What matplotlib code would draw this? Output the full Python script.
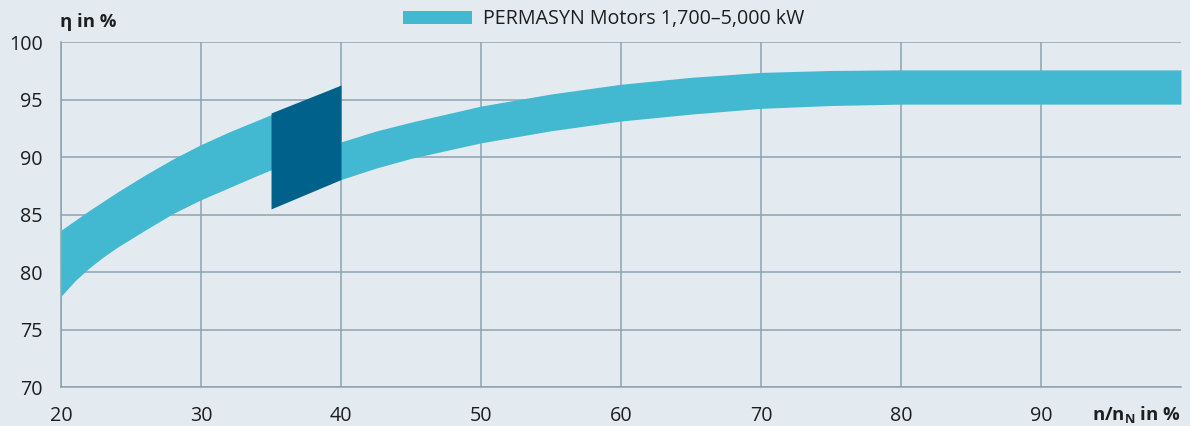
import matplotlib
matplotlib.use('Agg')
import matplotlib.pyplot as plt
from matplotlib.patches import Patch

plt.rcParams['font.family'] = ['Open Sans', 'DejaVu Sans']
plt.rcParams['mathtext.fontset'] = 'custom'
plt.rcParams['mathtext.rm'] = 'Open Sans:bold'

# band left of the highlighted range
x_left = [20, 21, 22, 23, 24, 26, 28, 30, 32, 34, 35]
up_left = [83.65, 84.5, 85.35, 86.15, 86.95, 88.45, 89.85, 91.1, 92.2, 93.2, 93.7]
lo_left = [77.9, 79.25, 80.35, 81.3, 82.15, 83.65, 85.1, 86.3, 87.35, 88.4, 88.9]

# band right of the highlighted range
x_right = [40, 42.5, 45, 50, 55, 60, 65, 70, 75, 80, 90, 100]
up_right = [91.33, 92.28, 93.05, 94.45, 95.5, 96.35, 96.95, 97.38, 97.55, 97.6, 97.6, 97.6]
lo_right = [88.06, 89.05, 89.9, 91.25, 92.3, 93.15, 93.75, 94.25, 94.5, 94.62, 94.62, 94.62]

# highlighted range
x_dark = [35, 40]
up_dark = [93.85, 96.28]
lo_dark = [85.5, 88.06]

xticks = [20, 30, 40, 50, 60, 70, 80, 90]
yticks = [70, 75, 80, 85, 90, 95, 100]
legend_label = 'PERMASYN Motors 1,700–5,000 kW'

bg = '#e3ebf1'
light = '#43b8d1'
dark = '#00618a'
grid_c = '#8ca3b2'
txt = '#1e1e1e'

fig = plt.figure(figsize=(11.9, 4.26), dpi=100, facecolor=bg)
ax = fig.add_axes([0.0513, 0.0915, 0.9411, 0.8092])
ax.set_facecolor(bg)

ax.fill_between(x_left + x_right, lo_left + lo_right, up_left + up_right,
                color=light, lw=0, zorder=2)
ax.fill_between(x_dark, lo_dark, up_dark, color=dark, lw=0, zorder=3)

ax.set_xlim(20, 100)
ax.set_ylim(70, 100)
ax.set_xticks(xticks)
ax.set_yticks(yticks)
ax.set_axisbelow(True)
ax.grid(True, color=grid_c, lw=1.1)
for s in ['top', 'right']:
    ax.spines[s].set_visible(False)
for s in ['left', 'bottom']:
    ax.spines[s].set_color(grid_c)
    ax.spines[s].set_linewidth(1.1)
ax.tick_params(axis='both', length=0, labelsize=14.2, colors=txt)
ax.tick_params(axis='x', pad=14)
ax.tick_params(axis='y', pad=13)

fig.text(0.0505, 0.948, 'η in %', fontsize=13.3, fontweight='bold',
         color=txt, ha='left', va='center')
fig.text(0.992, 0.028, r'n/n$_\mathrm{N}$ in %', fontsize=13.3,
         fontweight='bold', color=txt, ha='right', va='center')

handle = Patch(facecolor=light, edgecolor='none')
fig.legend([handle], [legend_label], loc='center',
           bbox_to_anchor=(0.507, 0.955), frameon=False, fontsize=14.2,
           handlelength=3.5, handleheight=0.645, handletextpad=0.56,
           labelcolor=txt)

fig.savefig('out.png', dpi=100, facecolor=bg)
